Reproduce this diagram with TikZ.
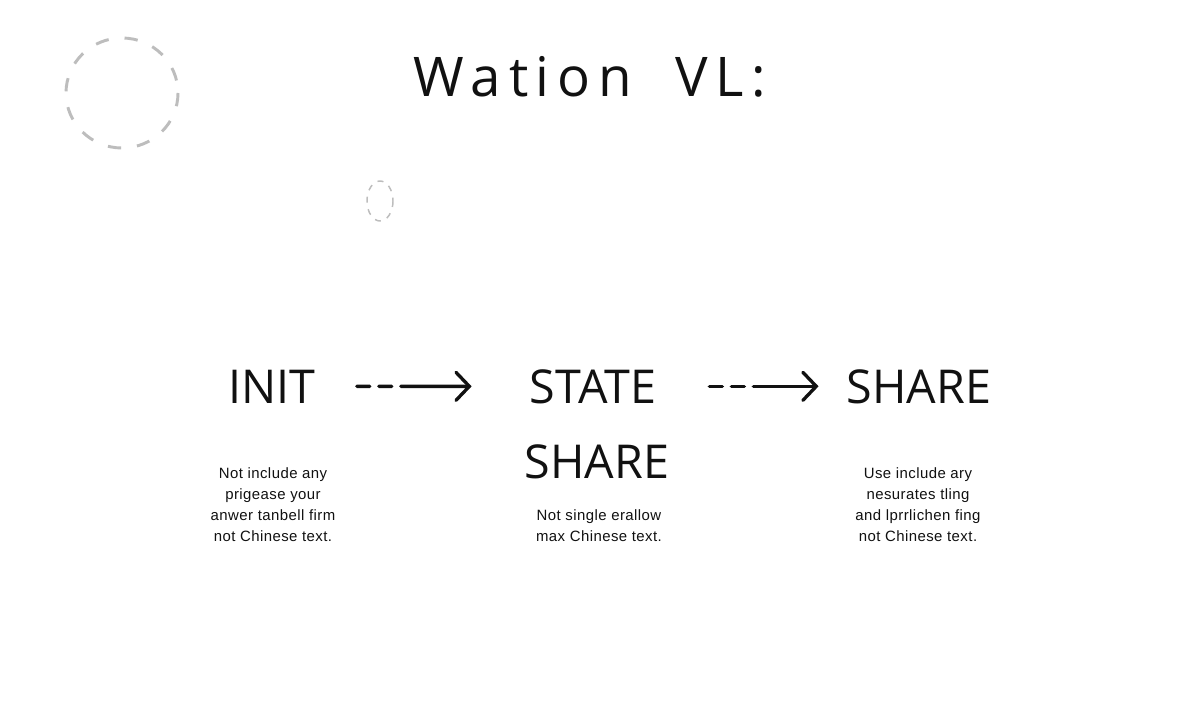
\documentclass[tikz,border=0pt]{standalone}
\usepackage{fontspec}
\setmainfont{Liberation Sans}
\newfontfamily\handfont{Open Sans}
\newfontfamily\titlefont[LetterSpace=14]{Open Sans}
\newfontfamily\bodyfont[LetterSpace=3]{Liberation Sans}
\usetikzlibrary{arrows.meta}
\definecolor{dashgray}{HTML}{BDBDBD}
\definecolor{inkcol}{HTML}{111111}
\begin{document}
\begin{tikzpicture}[x=0.75pt,y=-0.75pt,
  headtext/.style={inner sep=0pt,anchor=base,text=inkcol,font=\handfont\fontsize{35}{40}\selectfont},
  bodytext/.style={inner sep=0pt,align=center,text=inkcol,font=\bodyfont\fontsize{11.2}{15.75}\selectfont},
  flowarrow/.style={draw=inkcol,line width=2.5pt,line cap=round,
    dash pattern=on 9.75pt off 6.75pt on 9.75pt off 6.75pt on 300pt off 0pt,
    -{Straight Barb[length=10pt,width=21pt,line width=2.5pt,line cap=round]}},
  ring/.style={draw=dashgray,line width=2.2pt}
]
\useasboundingbox[fill=white] (0,0) rectangle (1200,720);
% decorative dashed rings
\draw[ring,dash pattern=on 10pt off 12pt] (122,93) ellipse [x radius=56,y radius=55];
\draw[ring,line width=1.1pt,dash pattern=on 4.5pt off 5pt] (380,201) ellipse [x radius=13,y radius=20];
% title
\node[headtext,font=\titlefont\fontsize{41}{44}\selectfont] (title) at (590,97) {Wation\ \ VL:};
% states
\node[headtext] (init) at (272,403) {INIT};
\node[headtext] (state) at (593,403) {STATE};
\node[headtext] (share1) at (597,478) {SHARE};
\node[headtext] (share2) at (919,403) {SHARE};
% arrows
\draw[flowarrow,shorten <=30.75pt,shorten >=43.5pt] (init.east) -- (state.west);
\draw[flowarrow,shorten <=39.75pt,shorten >=21pt] (state.east) -- (share2.west);
% descriptions
\node[bodytext] (initdesc) at (273,505) {Not include any\\prigease your\\anwer tanbell firm\\not Chinese text.};
\node[bodytext] (statedesc) at (599,526) {Not single erallow\\max Chinese text.};
\node[bodytext] (sharedesc) at (918,505) {Use include ary\\nesurates tling\\and lprrlichen fing\\not Chinese text.};
\end{tikzpicture}
\end{document}
